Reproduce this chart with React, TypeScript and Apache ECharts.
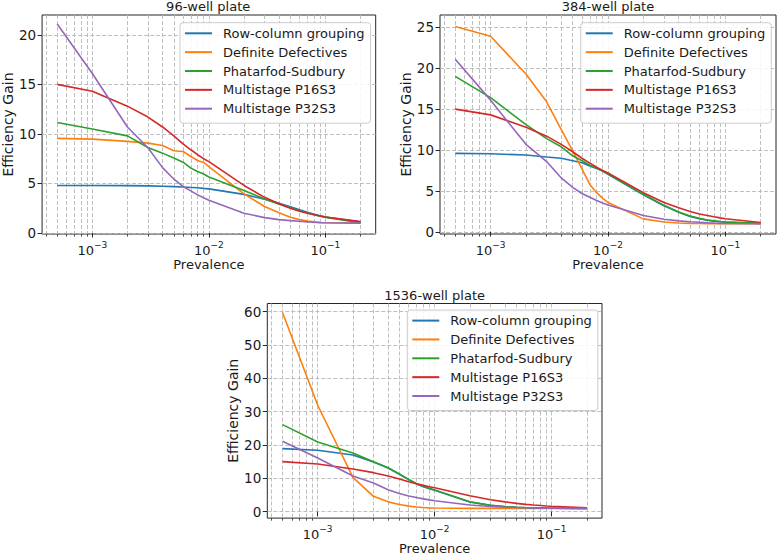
import React, { useEffect, useRef } from 'react';
import * as echarts from 'echarts';

const FONT = 'DejaVu Sans';

const prevalence = [0.0005, 0.001, 0.002, 0.003, 0.004, 0.005, 0.006, 0.007, 0.008, 0.009, 0.01, 0.02, 0.03, 0.04, 0.05, 0.06, 0.07, 0.08, 0.09, 0.1, 0.2];

const seriesNames = ['Row-column grouping', 'Definite Defectives', 'Phatarfod-Sudbury', 'Multistage P16S3', 'Multistage P32S3'];
const colors = ['#1f77b4', '#ff7f0e', '#2ca02c', '#d62728', '#9467bd'];

const plateTitles = ['96-well plate', '384-well plate', '1536-well plate'];

// Multistage designs (same in every panel)
const multistageP16S3 = [15.0, 14.3, 12.8, 11.7, 10.7, 9.8, 9.0, 8.4, 7.9, 7.5, 7.2, 4.8, 3.6, 2.95, 2.5, 2.2, 2.0, 1.85, 1.72, 1.62, 1.15];
const multistageP32S3 = [21.1, 16.1, 10.7, 8.6, 6.6, 5.45, 4.7, 4.25, 3.85, 3.55, 3.3, 2.0, 1.55, 1.35, 1.25, 1.18, 1.12, 1.08, 1.05, 1.04, 1.0];

// 96-well plate
const rowCol96 = [4.8, 4.8, 4.78, 4.76, 4.72, 4.68, 4.64, 4.6, 4.56, 4.5, 4.45, 3.9, 3.4, 3.0, 2.65, 2.35, 2.1, 1.9, 1.75, 1.62, 1.1];
const defDef96 = [9.55, 9.47, 9.25, 9.07, 8.83, 8.3, 8.23, 7.72, 7.32, 7.12, 6.7, 3.95, 2.68, 2.05, 1.6, 1.35, 1.22, 1.12, 1.06, 1.03, 1.0];
const phatarfod96 = [11.15, 10.5, 9.8, 8.63, 8.06, 7.56, 7.15, 6.55, 6.2, 5.95, 5.65, 4.3, 3.43, 2.9, 2.55, 2.25, 2.02, 1.85, 1.7, 1.58, 1.05];

// 384-well plate
const rowCol384 = [9.6, 9.55, 9.4, 9.15, 9.0, 8.7, 8.45, 8.05, 7.75, 7.45, 7.05, 4.55, 3.2, 2.4, 1.9, 1.62, 1.42, 1.32, 1.25, 1.2, 1.03];
const defDef384 = [25.1, 23.9, 19.3, 15.9, 12.5, 9.9, 7.7, 5.8, 4.8, 4.1, 3.6, 1.6, 1.22, 1.1, 1.05, 1.03, 1.02, 1.01, 1.0, 1.0, 1.0];
const phatarfod384 = [19.0, 16.4, 13.1, 11.4, 10.4, 9.3, 8.7, 8.15, 7.8, 7.45, 7.1, 4.6, 3.25, 2.45, 1.95, 1.67, 1.47, 1.35, 1.27, 1.22, 1.05];

// 1536-well plate
const rowCol1536 = [18.9, 18.4, 17.0, 14.9, 13.1, 11.2, 9.6, 8.3, 7.5, 6.9, 6.4, 2.9, 1.9, 1.5, 1.32, 1.2, 1.13, 1.08, 1.06, 1.04, 1.0];
const defDef1536 = [59.7, 31.9, 10.3, 4.6, 2.95, 2.17, 1.67, 1.4, 1.25, 1.15, 1.1, 1.0, 1.0, 1.0, 1.0, 1.0, 1.0, 1.0, 1.0, 1.0, 1.0];
const phatarfod1536 = [26.1, 20.9, 17.6, 15.0, 13.2, 11.3, 9.7, 8.4, 7.6, 7.0, 6.5, 2.95, 1.95, 1.55, 1.35, 1.22, 1.15, 1.1, 1.07, 1.05, 1.0];

const panelSeries = [
  [rowCol96, defDef96, phatarfod96, multistageP16S3, multistageP32S3],
  [rowCol384, defDef384, phatarfod384, multistageP16S3, multistageP32S3],
  [rowCol1536, defDef1536, phatarfod1536, multistageP16S3, multistageP32S3],
];

const xMajorTicks = [0.001, 0.01, 0.1];
const xMinorTicks = [0.0004, 0.0005, 0.0006, 0.0007, 0.0008, 0.0009, 0.002, 0.003, 0.004, 0.005, 0.006, 0.007, 0.008, 0.009, 0.02, 0.03, 0.04, 0.05, 0.06, 0.07, 0.08, 0.09, 0.2];
const yTicks96 = [0, 5, 10, 15, 20];
const yTicks384 = [0, 5, 10, 15, 20, 25];
const yTicks1536 = [0, 10, 20, 30, 40, 50, 60];
const yTickSets = [yTicks96, yTicks384, yTicks1536];

const X_MIN = Math.pow(10, -3.431);
const X_MAX = Math.pow(10, -0.569);

const layouts = [
  { left: 40.7, top: 15, width: 335, height: 219, yMin: -0.1, yMax: 22.0, legendLeft: 180, legendTop: 22.7 },
  { left: 440, top: 15, width: 336, height: 219, yMin: -0.25, yMax: 26.5, legendLeft: 580.7, legendTop: 22.7 },
  { left: 267.3, top: 303.5, width: 334.7, height: 218, yMin: -1.92, yMax: 62.4, legendLeft: 407.3, legendTop: 310 },
];

const gridLine = { show: true, lineStyle: { color: '#b8b8b8', type: [4, 2] as any, width: 0.9 } };

function buildOption() {
  const grid: any[] = [];
  const xAxis: any[] = [];
  const yAxis: any[] = [];
  const series: any[] = [];
  const legend: any[] = [];
  const graphic: any[] = [];

  layouts.forEach((L, i) => {
    grid.push({
      left: L.left, top: L.top, width: L.width, height: L.height,
      show: true, borderColor: '#262626', borderWidth: 1, backgroundColor: 'transparent',
    });
    // major x axis
    xAxis.push({
      type: 'log', logBase: 10, gridIndex: i, min: X_MIN, max: X_MAX,
      axisLine: { show: false },
      axisTick: { show: true, inside: false, length: 4.5, customValues: xMajorTicks, lineStyle: { color: '#262626', width: 1 } },
      axisLabel: {
        show: true, customValues: xMajorTicks, margin: 6,
        formatter: (v: number) => {
          const e = Math.round(Math.log10(v));
          return `{b|10}{s|\u2212${-e}}`;
        },
        rich: {
          b: { fontFamily: FONT, fontSize: 13, color: '#1a1a1a', lineHeight: 17, verticalAlign: 'bottom' },
          s: { fontFamily: FONT, fontSize: 9, color: '#1a1a1a', lineHeight: 17, verticalAlign: 'top', padding: [0, 0, 0, 0] },
        },
      },
      splitLine: gridLine,
      name: 'Prevalence', nameLocation: 'middle', nameGap: 19,
      nameTextStyle: { fontFamily: FONT, fontSize: 13, color: '#1a1a1a' },
    });
    // minor x axis
    xAxis.push({
      type: 'log', logBase: 10, gridIndex: i, min: X_MIN, max: X_MAX, position: 'bottom',
      axisLine: { show: false },
      axisTick: { show: true, inside: false, length: 2.6, customValues: xMinorTicks, lineStyle: { color: '#262626', width: 0.8 } },
      axisLabel: { show: false },
      splitLine: gridLine,
    });
    yAxis.push({
      type: 'value', gridIndex: i, min: L.yMin, max: L.yMax,
      axisLine: { show: false },
      axisTick: { show: true, inside: false, length: 4.5, customValues: yTickSets[i], lineStyle: { color: '#262626', width: 1 } },
      axisLabel: { show: true, customValues: yTickSets[i], margin: 6, fontFamily: FONT, fontSize: 13.5, color: '#1a1a1a' },
      splitLine: gridLine,
      name: 'Efficiency Gain', nameLocation: 'middle', nameGap: 25.5,
      nameTextStyle: { fontFamily: FONT, fontSize: 14, color: '#1a1a1a' },
    });
    panelSeries[i].forEach((vals, k) => {
      series.push({
        type: 'line', name: seriesNames[k], xAxisIndex: 2 * i, yAxisIndex: i,
        data: prevalence.map((p, j) => [p, vals[j]]),
        symbol: 'none', showSymbol: false, clip: true,
        lineStyle: { color: colors[k], width: 1.6 },
        itemStyle: { color: colors[k] },
        z: 3,
      });
    });
    legend.push({
      left: L.legendLeft, top: L.legendTop, orient: 'vertical',
      data: seriesNames,
      icon: 'rect',
      itemWidth: 27, itemHeight: 2, itemGap: 5.85,
      padding: [4.1, 6, 8, 5],
      backgroundColor: 'rgba(255,255,255,0.85)', borderColor: '#cccccc', borderWidth: 1, borderRadius: 3,
      textStyle: { fontFamily: FONT, fontSize: 13, color: '#1a1a1a', padding: [0, 0, 0, 6] },
      selectedMode: false,
    });
    graphic.push({
      type: 'text', x: L.left + L.width / 2, y: L.top - 8.5,
      style: {
        text: plateTitles[i], font: `13px "${FONT}"`, fill: '#1a1a1a',
        align: 'center', verticalAlign: 'middle', textAlign: 'center', textVerticalAlign: 'middle',
      },
    });
  });

  return {
    animation: false,
    backgroundColor: '#ffffff',
    grid, xAxis, yAxis, series, legend, graphic,
  };
}

export default function App() {
  const ref = useRef<HTMLDivElement>(null);
  useEffect(() => {
    if (!ref.current) return;
    const chart = echarts.init(ref.current, undefined, { renderer: 'svg' });
    chart.setOption(buildOption() as any);
    return () => chart.dispose();
  }, []);
  return <div ref={ref} style={{ position: 'fixed', left: 0, top: 0, width: 777, height: 556 }} />;
}
